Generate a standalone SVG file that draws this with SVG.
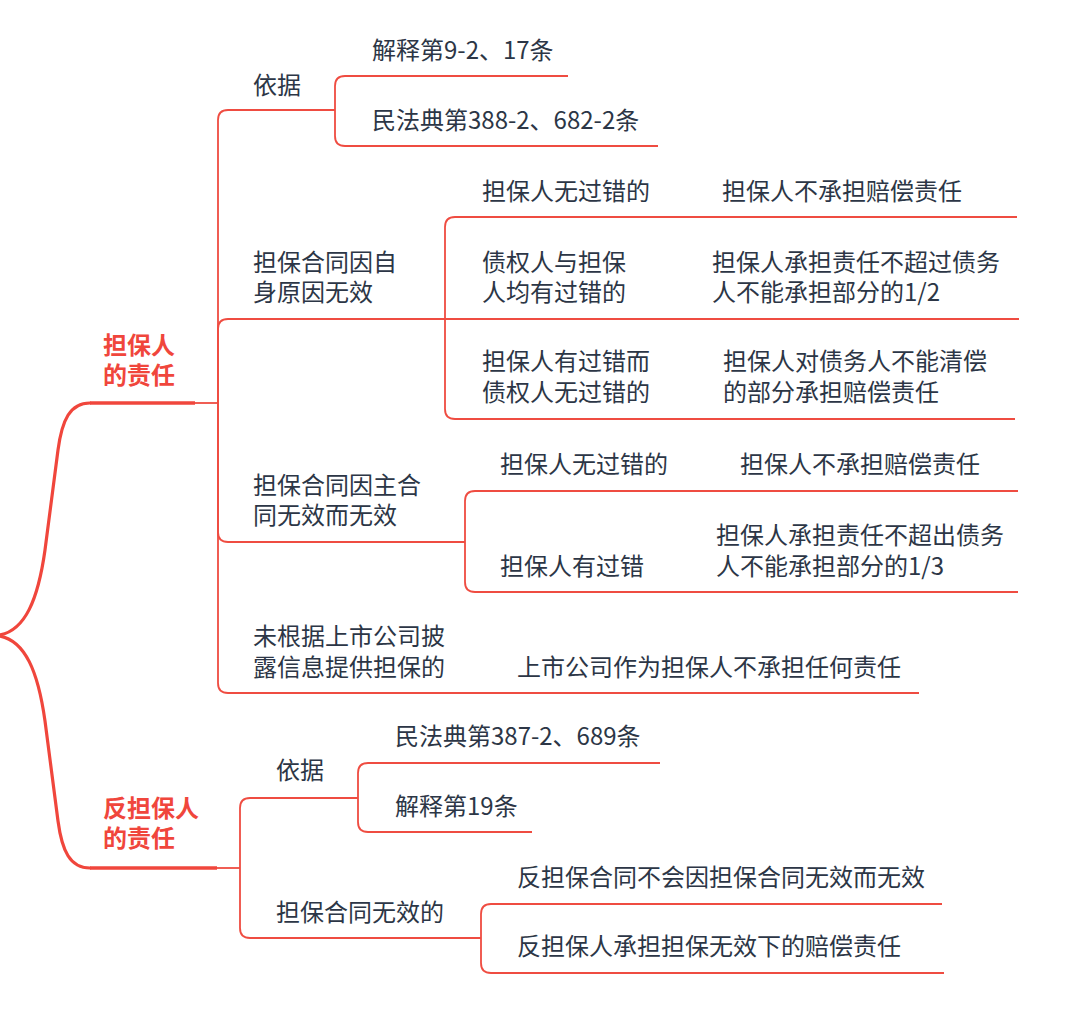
<svg xmlns="http://www.w3.org/2000/svg" width="1080" height="1014" viewBox="0 0 1080 1014">
<style>
.t{font-family:"Noto Sans CJK SC","Noto Sans",sans-serif;font-size:24px;fill:#2c3646}
.m{font-family:"Noto Sans CJK SC","Noto Sans",sans-serif;font-size:24px;fill:#f0463c;font-weight:bold}
.u{stroke:#ef4c41;stroke-width:1.8;fill:none}
.ut{stroke:#f0463c;stroke-width:3.4;fill:none}
.c{stroke:#ef4c41;stroke-width:1.8;fill:none}
.ct{stroke:#f0463c;stroke-width:3.2;fill:none;stroke-linecap:round}
</style>
<rect width="1080" height="1014" fill="#ffffff"/>
<g id="connectors">
<path class="ct" d="M0,635 C25,630 38,600 45,550 L58,450 C62,420 70,403 90,403"/>
<path class="ct" d="M0,636 C25,641 38,671 45,721 L58,821 C62,851 70,868 90,868"/>
<path class="c" d="M195,403 H218"/>
<path class="c" d="M218,403 V120 Q218,110 228,110"/>
<path class="c" d="M218,403 V329 Q218,319 228,319"/>
<path class="c" d="M218,403 V532 Q218,542 228,542"/>
<path class="c" d="M218,403 V683 Q218,693 228,693"/>
<path class="c" d="M335,110 V86 Q335,76 345,76"/>
<path class="c" d="M335,110 V136 Q335,146 345,146"/>
<path class="c" d="M445,319 V227 Q445,217 455,217"/>
<path class="c" d="M445,319 V409 Q445,419 455,419"/>
<path class="c" d="M465,542 V501 Q465,491 475,491"/>
<path class="c" d="M465,542 V582 Q465,592 475,592"/>
<path class="c" d="M217,868 H240"/>
<path class="c" d="M240,868 V808 Q240,798 250,798"/>
<path class="c" d="M240,868 V928 Q240,938 250,938"/>
<path class="c" d="M358,798 V773 Q358,763 368,763"/>
<path class="c" d="M358,798 V822 Q358,832 368,832"/>
<path class="c" d="M481,938 V914 Q481,904 491,904"/>
<path class="c" d="M481,938 V963 Q481,973 491,973"/>
</g>
<g id="node-A">
<line class="ut" x1="90" y1="403" x2="195" y2="403"/>
<text class="m" x="103" y="354">担保人<tspan x="103" y="384">的责任</tspan></text>
</g>
<g id="node-A1">
<line class="u" x1="228" y1="110" x2="335" y2="110"/>
<text class="t" x="253" y="94">依据</text>
</g>
<g id="node-A1a">
<line class="u" x1="345" y1="76" x2="568" y2="76"/>
<text class="t" x="372" y="59">解释第9-2、17条</text>
</g>
<g id="node-A1b">
<line class="u" x1="345" y1="146" x2="658" y2="146"/>
<text class="t" x="372" y="129">民法典第388-2、682-2条</text>
</g>
<g id="node-A2">
<line class="u" x1="228" y1="319" x2="445" y2="319"/>
<text class="t" x="253" y="271">担保合同因自<tspan x="253" y="301">身原因无效</tspan></text>
</g>
<g id="node-A2a">
<line class="u" x1="455" y1="217" x2="700" y2="217"/>
<text class="t" x="482" y="200">担保人无过错的</text>
</g>
<g id="node-A2a1">
<line class="u" x1="700" y1="217" x2="1017" y2="217"/>
<text class="t" x="722" y="200">担保人不承担赔偿责任</text>
</g>
<g id="node-A2b">
<line class="u" x1="445" y1="319" x2="690" y2="319"/>
<text class="t" x="482" y="271">债权人与担保<tspan x="482" y="301">人均有过错的</tspan></text>
</g>
<g id="node-A2b1">
<line class="u" x1="690" y1="319" x2="1019" y2="319"/>
<text class="t" x="712" y="271">担保人承担责任不超过债务<tspan x="712" y="301">人不能承担部分的1/2</tspan></text>
</g>
<g id="node-A2c">
<line class="u" x1="455" y1="419" x2="700" y2="419"/>
<text class="t" x="482" y="370">担保人有过错而<tspan x="482" y="401">债权人无过错的</tspan></text>
</g>
<g id="node-A2c1">
<line class="u" x1="700" y1="419" x2="1015" y2="419"/>
<text class="t" x="723" y="370">担保人对债务人不能清偿<tspan x="723" y="401">的部分承担赔偿责任</tspan></text>
</g>
<g id="node-A3">
<line class="u" x1="228" y1="542" x2="465" y2="542"/>
<text class="t" x="253" y="494">担保合同因主合<tspan x="253" y="524">同无效而无效</tspan></text>
</g>
<g id="node-A3a">
<line class="u" x1="475" y1="491" x2="720" y2="491"/>
<text class="t" x="500" y="473">担保人无过错的</text>
</g>
<g id="node-A3a1">
<line class="u" x1="720" y1="491" x2="1018" y2="491"/>
<text class="t" x="740" y="473">担保人不承担赔偿责任</text>
</g>
<g id="node-A3b">
<line class="u" x1="475" y1="592" x2="700" y2="592"/>
<text class="t" x="500" y="575">担保人有过错</text>
</g>
<g id="node-A3b1">
<line class="u" x1="700" y1="592" x2="1018" y2="592"/>
<text class="t" x="716" y="544">担保人承担责任不超出债务<tspan x="716" y="575">人不能承担部分的1/3</tspan></text>
</g>
<g id="node-A4">
<line class="u" x1="228" y1="693" x2="500" y2="693"/>
<text class="t" x="253" y="645">未根据上市公司披<tspan x="253" y="676">露信息提供担保的</tspan></text>
</g>
<g id="node-A41">
<line class="u" x1="500" y1="693" x2="919" y2="693"/>
<text class="t" x="517" y="676">上市公司作为担保人不承担任何责任</text>
</g>
<g id="node-B">
<line class="ut" x1="90" y1="868" x2="217" y2="868"/>
<text class="m" x="103" y="817">反担保人<tspan x="103" y="847">的责任</tspan></text>
</g>
<g id="node-B1">
<line class="u" x1="250" y1="798" x2="358" y2="798"/>
<text class="t" x="276" y="779">依据</text>
</g>
<g id="node-B1a">
<line class="u" x1="368" y1="763" x2="660" y2="763"/>
<text class="t" x="395" y="745">民法典第387-2、689条</text>
</g>
<g id="node-B1b">
<line class="u" x1="368" y1="832" x2="532" y2="832"/>
<text class="t" x="395" y="815">解释第19条</text>
</g>
<g id="node-B2">
<line class="u" x1="250" y1="938" x2="481" y2="938"/>
<text class="t" x="276" y="921">担保合同无效的</text>
</g>
<g id="node-B2a">
<line class="u" x1="491" y1="904" x2="942" y2="904"/>
<text class="t" x="517" y="886">反担保合同不会因担保合同无效而无效</text>
</g>
<g id="node-B2b">
<line class="u" x1="491" y1="973" x2="944" y2="973"/>
<text class="t" x="517" y="955">反担保人承担担保无效下的赔偿责任</text>
</g>
</svg>
